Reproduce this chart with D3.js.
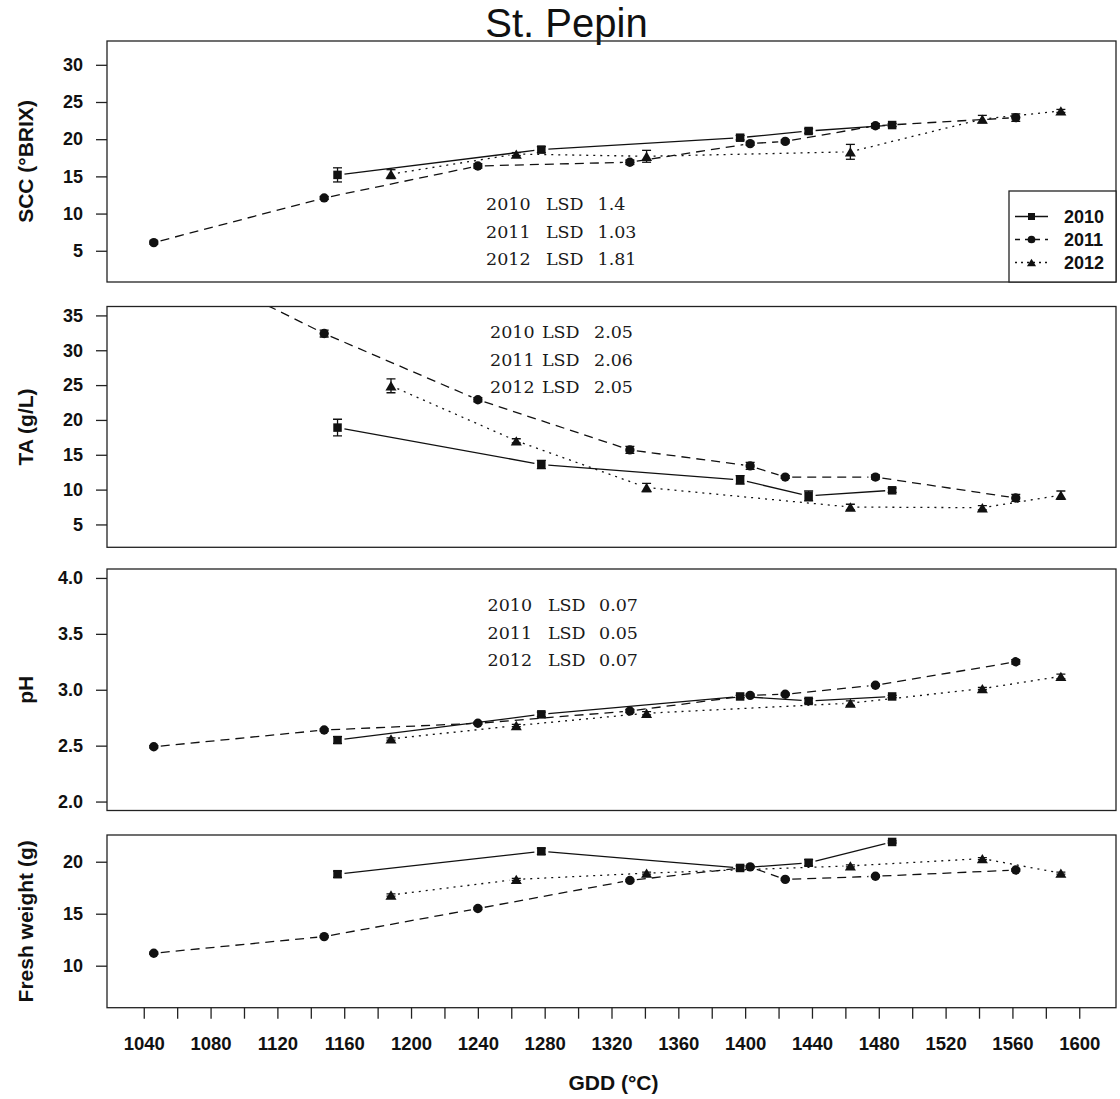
<!DOCTYPE html>
<html>
<head>
<meta charset="utf-8">
<script src="https://cdn.jsdelivr.net/npm/d3@7"></script>
<style>
  html, body { margin: 0; padding: 0; background: #fff; }
  svg { display: block; }
</style>
</head>
<body>
<svg id="chart" width="1120" height="1099"></svg>
<script>
// ---------------- DATA ----------------
const years = ["2010", "2011", "2012"];
const gdd2010 = [1156, 1278, 1397, 1438, 1488];
const gdd2011 = [1046, 1148, 1240, 1331, 1403, 1424, 1478, 1562];
const gdd2012 = [1188, 1263, 1341, 1463, 1542, 1589];

const scc2010 = [15.2, 18.6, 20.2, 21.1, 21.9];
const scc2011 = [6.1, 12.1, 16.4, 16.9, 19.4, 19.7, 21.8, 22.9];
const scc2012 = [15.3, 18.0, 17.7, 18.3, 22.7, 23.8];
const sccErr2010 = [0.95, 0.4, 0.3, 0.3, 0.2];
const sccErr2011 = [0.2, 0.2, 0.3, 0.3, 0.2, 0.2, 0.3, 0.5];
const sccErr2012 = [0.6, 0.2, 0.8, 1.0, 0.5, 0.2];

const ta2010 = [18.9, 13.6, 11.4, 9.1, 9.9];
const ta2011 = [44.5, 32.4, 22.9, 15.7, 13.4, 11.8, 11.8, 8.8];
const ta2012 = [24.9, 17.0, 10.3, 7.5, 7.4, 9.2];
const taErr2010 = [1.2, 0.6, 0.6, 0.7, 0.3];
const taErr2011 = [0.5, 0.5, 0.3, 0.5, 0.5, 0.2, 0.3, 0.5];
const taErr2012 = [1.0, 0.3, 0.6, 0.4, 0.3, 0.6];

const ph2010 = [2.55, 2.78, 2.94, 2.90, 2.94];
const ph2011 = [2.49, 2.64, 2.70, 2.81, 2.95, 2.96, 3.04, 3.25];
const ph2012 = [2.56, 2.68, 2.79, 2.88, 3.01, 3.12];
const phErr2010 = [0.03, 0.02, 0.01, 0.02, 0.01];
const phErr2011 = [0.01, 0.01, 0.01, 0.015, 0.01, 0.01, 0.01, 0.02];
const phErr2012 = [0.01, 0.01, 0.015, 0.02, 0.01, 0.02];

const fw2010 = [18.8, 21.0, 19.4, 19.9, 21.9];
const fw2011 = [11.2, 12.8, 15.5, 18.2, 19.5, 18.3, 18.6, 19.2];
const fw2012 = [16.8, 18.3, 18.9, 19.6, 20.3, 18.9];
const fwErr2010 = [0.3, 0.3, 0.2, 0.3, 0.1];
const fwErr2011 = [0.1, 0.1, 0.1, 0.1, 0.1, 0.1, 0.1, 0.1];
const fwErr2012 = [0.1, 0.1, 0.1, 0.1, 0.1, 0.1];

const sccLSD = ["1.4", "1.03", "1.81"];
const taLSD = ["2.05", "2.06", "2.05"];
const phLSD = ["0.07", "0.05", "0.07"];

const sccTicks = [5, 10, 15, 20, 25, 30];
const taTicks = [5, 10, 15, 20, 25, 30, 35];
const phTicks = [2.0, 2.5, 3.0, 3.5, 4.0];
const fwTicks = [10, 15, 20];
const gddTicks = d3.range(1040, 1601, 20);
const gddLabelStep = 40;

const title = "St. Pepin";
const xTitle = "GDD (°C)";

// ---------------- LAYOUT ----------------
const svg = d3.select("#chart");
const left = 107, right = 1116;
const x = d3.scaleLinear().domain([1018, 1622]).range([left, right]);

const gddBy = [gdd2010, gdd2011, gdd2012];
const panels = [
  { label: "SCC (°BRIX)", top: 41, bottom: 282, domain: [0.8, 33.2], ticks: sccTicks, fmt: d3.format("d"),
    vals: [scc2010, scc2011, scc2012], errs: [sccErr2010, sccErr2011, sccErr2012],
    lsd: sccLSD, lsdX: [486, 546, 597.5], lsdY: [209.5, 237.5, 264.5], legend: true },
  { label: "TA (g/L)", top: 306.5, bottom: 547.3, domain: [1.72, 36.28], ticks: taTicks, fmt: d3.format("d"),
    vals: [ta2010, ta2011, ta2012], errs: [taErr2010, taErr2011, taErr2012],
    lsd: taLSD, lsdX: [490, 542, 594], lsdY: [337.5, 366, 392.5] },
  { label: "pH", top: 569, bottom: 810.5, domain: [1.92, 4.08], ticks: phTicks, fmt: d3.format(".1f"),
    vals: [ph2010, ph2011, ph2012], errs: [phErr2010, phErr2011, phErr2012],
    lsd: phLSD, lsdX: [487.5, 548, 599], lsdY: [611, 639, 665.5] },
  { label: "Fresh weight (g)", top: 835, bottom: 1007.7, domain: [5.96, 22.57], ticks: fwTicks, fmt: d3.format("d"),
    vals: [fw2010, fw2011, fw2012], errs: [fwErr2010, fwErr2011, fwErr2012], xaxis: true }
];

const dashes = [null, "9,6", "2,5"];
const INK = "#111";
const AXIS_FONT = "'Liberation Sans', Arial, sans-serif";

// title
svg.append("text").attr("x", 566.5).attr("y", 36.5).attr("text-anchor", "middle")
  .attr("font-family", AXIS_FONT).attr("font-size", 40).attr("fill", INK).text(title);

function marker(g, kind, cx, cy, s) {
  if (kind === 0) {
    g.append("rect").attr("x", cx - s / 2).attr("y", cy - s / 2).attr("width", s).attr("height", s).attr("fill", INK);
  } else if (kind === 1) {
    g.append("circle").attr("cx", cx).attr("cy", cy).attr("r", s * 0.55).attr("fill", INK);
  } else {
    const w = s * 1.3, h = s * 1.1;
    g.append("path").attr("d", `M${cx - w / 2},${cy + h / 2}L${cx + w / 2},${cy + h / 2}L${cx},${cy - h / 2}Z`).attr("fill", INK);
  }
}

panels.forEach((p, pi) => {
  const y = d3.scaleLinear().domain(p.domain).range([p.bottom, p.top]);
  const g = svg.append("g");

  const clipId = "clip" + pi;
  svg.append("clipPath").attr("id", clipId).append("rect")
    .attr("x", left).attr("y", p.top).attr("width", right - left).attr("height", p.bottom - p.top);

  const ya = g.append("g").attr("transform", `translate(${left},0)`)
    .call(d3.axisLeft(y).tickValues(p.ticks).tickFormat(p.fmt).tickSize(11).tickPadding(13));
  ya.select(".domain").remove();
  ya.selectAll("line").attr("stroke", "#222").attr("stroke-width", 1.3);
  ya.selectAll("text").attr("font-family", AXIS_FONT).attr("font-weight", "bold")
    .attr("font-size", 18).attr("fill", INK);

  g.append("text")
    .attr("transform", `translate(33,${(p.top + p.bottom) / 2}) rotate(-90)`)
    .attr("text-anchor", "middle").attr("font-family", AXIS_FONT).attr("font-weight", "bold")
    .attr("font-size", 21).attr("fill", INK).text(p.label);

  const lg = g.append("g").attr("clip-path", `url(#${clipId})`);
  const gap = 7;
  years.forEach((yr, si) => {
    const pts = gddBy[si].map((gv, i) => [x(gv), y(p.vals[si][i])]);
    for (let i = 0; i < pts.length - 1; i++) {
      const [x0, y0] = pts[i], [x1, y1] = pts[i + 1];
      const dx = x1 - x0, dy = y1 - y0, len = Math.hypot(dx, dy);
      if (len <= 2 * gap) continue;
      const ux = dx / len, uy = dy / len;
      const seg = lg.append("line")
        .attr("x1", x0 + ux * gap).attr("y1", y0 + uy * gap)
        .attr("x2", x1 - ux * gap).attr("y2", y1 - uy * gap)
        .attr("stroke", INK).attr("stroke-width", 1.3);
      if (dashes[si]) seg.attr("stroke-dasharray", dashes[si]);
    }
    gddBy[si].forEach((gv, i) => {
      const v = p.vals[si][i];
      if (v > p.domain[1] || v < p.domain[0]) return;
      const cx = x(gv), cy = y(v);
      const e = p.errs[si][i];
      const yT = y(v + e), yB = y(v - e);
      lg.append("line").attr("x1", cx).attr("x2", cx).attr("y1", yT).attr("y2", yB)
        .attr("stroke", INK).attr("stroke-width", 1.3);
      [yT, yB].forEach(yy => lg.append("line").attr("x1", cx - 4.5).attr("x2", cx + 4.5)
        .attr("y1", yy).attr("y2", yy).attr("stroke", INK).attr("stroke-width", 1.3));
      marker(lg, si, cx, cy, 8.5);
    });
  });

  if (p.lsd) {
    years.forEach((yr, si) => {
      const ty = p.lsdY[si];
      const f = (xx, s) => g.append("text").attr("x", xx).attr("y", ty)
        .attr("font-family", "'DejaVu Serif', serif").attr("font-size", 17.5).attr("fill", "#1a1a1a").text(s);
      f(p.lsdX[0], yr);
      f(p.lsdX[1], "LSD");
      f(p.lsdX[2], p.lsd[si]);
    });
  }

  g.append("rect").attr("x", left).attr("y", p.top).attr("width", right - left).attr("height", p.bottom - p.top)
    .attr("fill", "none").attr("stroke", "#222").attr("stroke-width", 1.3);

  if (p.legend) {
    const lgd = g.append("g");
    lgd.append("rect").attr("x", 1009).attr("y", 191).attr("width", right - 1009).attr("height", p.bottom - 191)
      .attr("fill", "#fff").attr("stroke", "#222").attr("stroke-width", 1.3);
    const rowY = [216.5, 239.5, 262.5];
    years.forEach((yr, si) => {
      const ln = lgd.append("line").attr("x1", 1015).attr("x2", 1048).attr("y1", rowY[si]).attr("y2", rowY[si])
        .attr("stroke", INK).attr("stroke-width", 1.3);
      if (dashes[si]) ln.attr("stroke-dasharray", si === 1 ? "5,5" : "2,4");
      marker(lgd, si, 1031.5, rowY[si], 7);
      lgd.append("text").attr("x", 1064).attr("y", rowY[si] + 6.5)
        .attr("font-family", AXIS_FONT).attr("font-weight", "bold").attr("font-size", 18).attr("fill", INK).text(yr);
    });
  }

  if (p.xaxis) {
    const xa = svg.append("g").attr("transform", `translate(0,${p.bottom})`)
      .call(d3.axisBottom(x).tickValues(gddTicks).tickSize(11).tickPadding(18)
        .tickFormat(d => (d - 1040) % gddLabelStep === 0 ? d : ""));
    xa.select(".domain").remove();
    xa.selectAll("line").attr("stroke", "#222").attr("stroke-width", 1.3);
    xa.selectAll("text").attr("font-family", AXIS_FONT).attr("font-weight", "bold")
      .attr("font-size", 18.5).attr("fill", INK);
    svg.append("text").attr("x", 613.5).attr("y", 1090).attr("text-anchor", "middle")
      .attr("font-family", AXIS_FONT).attr("font-weight", "bold").attr("font-size", 21).attr("fill", INK).text(xTitle);
  }
});
</script>
</body>
</html>
